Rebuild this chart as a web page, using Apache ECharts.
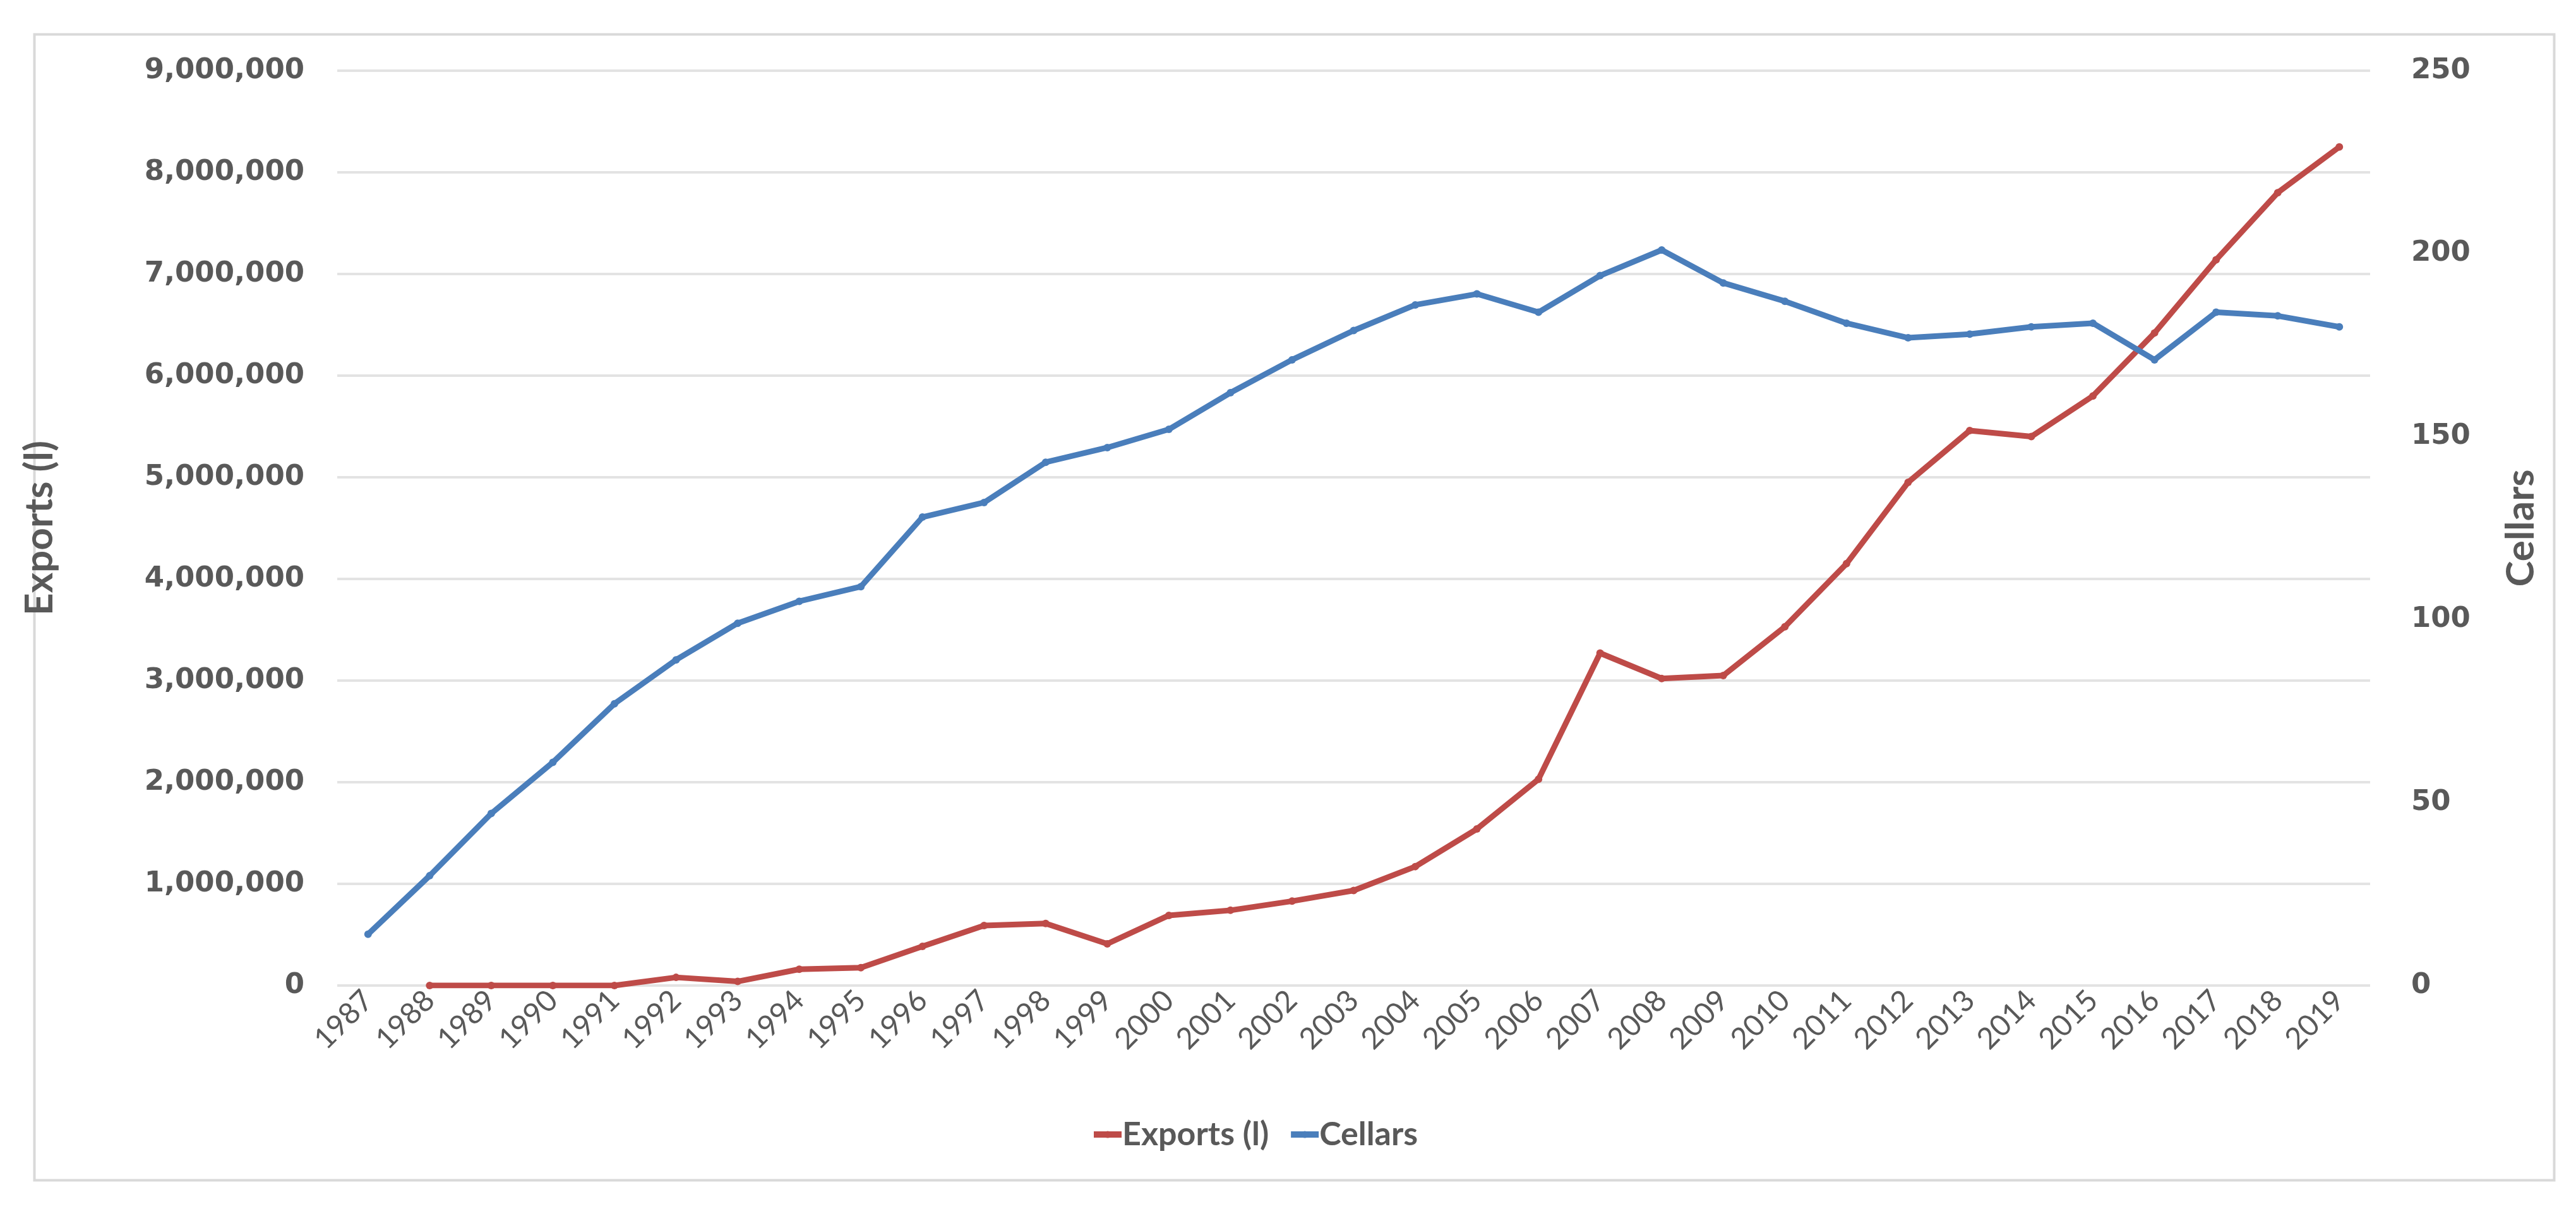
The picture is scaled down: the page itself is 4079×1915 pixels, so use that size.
<!DOCTYPE html>
<html>
<head>
<meta charset="utf-8">
<script src="https://cdn.jsdelivr.net/npm/echarts@6/dist/echarts.min.js"></script>
<style>
html,body{margin:0;padding:0;background:#fff;}
#chart{width:4079px;height:1915px;}
</style>
</head>
<body>
<div id="chart"></div>
<script>
const years = ['1987','1988','1989','1990','1991','1992','1993','1994','1995','1996','1997','1998','1999','2000','2001','2002','2003','2004','2005','2006','2007','2008','2009','2010','2011','2012','2013','2014','2015','2016','2017','2018','2019'];
const exportsLitres = [null,0,0,0,0,80000,40000,160000,175000,385000,590000,610000,410000,690000,740000,830000,935000,1170000,1540000,2030000,3270000,3020000,3050000,3530000,4150000,4950000,5460000,5400000,5800000,6420000,7140000,7800000,8250000];
const cellars = [14,30,47,61,77,89,99,105,109,128,132,143,147,152,162,171,179,186,189,184,194,201,192,187,181,177,178,180,181,171,184,183,180];
const seriesNames = ['Exports (l)','Cellars'];
const leftAxisName = 'Exports (l)';
const rightAxisName = 'Cellars';

const RED = '#BE4B48';
const BLUE = '#4A7EBB';
const GREY = '#595959';
const NARROW = 'Lato,"Open Sans",sans-serif';
const WIDE = '"DejaVu Sans","Verdana",sans-serif';

const chart = echarts.init(document.getElementById('chart'), null, {renderer:'canvas', devicePixelRatio:1});
chart.setOption({
  backgroundColor:'#ffffff',
  animation:false,
  graphic:[{
    type:'rect', left:52, top:52, z:-1,
    shape:{width:3990, height:1815},
    style:{fill:'none', stroke:'#d9d9d9', lineWidth:4}
  }],
  grid:{left:534, right:326, top:112, bottom:354, containLabel:false},
  legend:{
    left:1722, top:1766,
    itemWidth:44, itemHeight:14, itemGap:30,
    lineStyle:{width:10},
    textStyle:{fontFamily:NARROW, fontWeight:'bold', fontSize:52, color:GREY, padding:[0,0,0,-4]},
    data:seriesNames
  },
  xAxis:{
    type:'category',
    data:years,
    boundaryGap:true,
    axisLine:{show:false},
    axisTick:{show:false},
    axisLabel:{rotate:45, interval:0, margin:16, fontFamily:NARROW, fontSize:47, color:GREY}
  },
  yAxis:[{
    type:'value', min:0, max:9000000, interval:1000000,
    name:leftAxisName, nameLocation:'middle', nameGap:440, nameRotate:90,
    nameTextStyle:{fontFamily:NARROW, fontWeight:'bold', fontSize:62, color:GREY},
    axisLine:{show:false}, axisTick:{show:false},
    axisLabel:{margin:52, fontFamily:WIDE, fontWeight:'bold', fontSize:45, color:GREY,
      formatter:v=>v.toLocaleString('en-US')},
    splitLine:{show:true, lineStyle:{color:'#e3e3e3', width:4}}
  },{
    type:'value', min:0, max:250, interval:50, position:'right',
    name:rightAxisName, nameLocation:'middle', nameGap:208, nameRotate:90,
    nameTextStyle:{fontFamily:NARROW, fontWeight:'bold', fontSize:62, color:GREY},
    axisLine:{show:false}, axisTick:{show:false},
    axisLabel:{margin:65, fontFamily:WIDE, fontWeight:'bold', fontSize:45, color:GREY},
    splitLine:{show:false}
  }],
  series:[{
    name:seriesNames[0], type:'line', yAxisIndex:0, data:exportsLitres,
    lineStyle:{color:RED, width:9}, itemStyle:{color:RED},
    symbol:'circle', symbolSize:12, showSymbol:true, connectNulls:false
  },{
    name:seriesNames[1], type:'line', yAxisIndex:1, data:cellars,
    lineStyle:{color:BLUE, width:9}, itemStyle:{color:BLUE},
    symbol:'circle', symbolSize:12, showSymbol:true
  }]
});
</script>
</body>
</html>
